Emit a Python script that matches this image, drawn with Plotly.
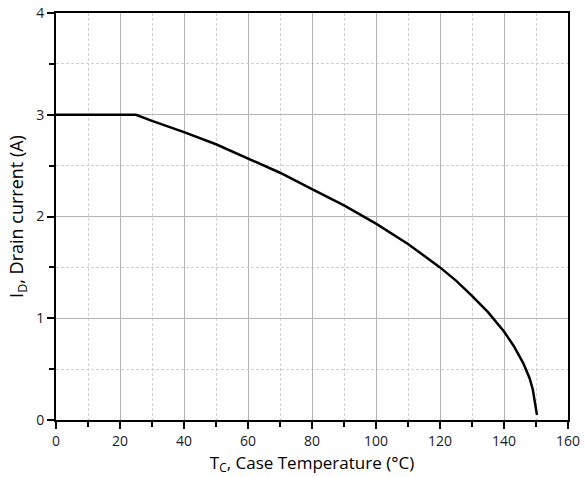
import plotly.graph_objects as go

temperature = [0, 25, 30, 40, 50, 60, 70, 80, 90, 100, 110, 120, 125, 130, 135, 140, 143, 146, 148, 149, 149.6, 150.3]
drain_current = [3.0, 3.0, 2.94, 2.83, 2.71, 2.57, 2.43, 2.27, 2.11, 1.93, 1.73, 1.50, 1.37, 1.22, 1.06, 0.87, 0.73, 0.56, 0.41, 0.30, 0.20, 0.05]

x_ticks = [0, 20, 40, 60, 80, 100, 120, 140, 160]
y_ticks = [0, 1, 2, 3, 4]

fig = go.Figure()
fig.add_trace(go.Scatter(x=temperature, y=drain_current, mode="lines",
                         line=dict(color="black", width=2.5),
                         showlegend=False))

axis_common = dict(
    showline=True, linecolor="black", linewidth=2, mirror=True,
    ticks="outside", ticklen=7, tickwidth=2, tickcolor="black",
    showgrid=True, gridcolor="#b4b4b4", gridwidth=1,
    zeroline=False, automargin=False,
    tickfont=dict(family="Open Sans", size=14, color="#1a1a2a"),
)

minor_common = dict(showgrid=True, gridcolor="#d0d0d0", griddash="3px,2px", gridwidth=1,
                    ticks="outside", ticklen=5, tickwidth=2, tickcolor="black")

fig.update_xaxes(range=[0, 160], tickvals=x_ticks,
                 minor=dict(dtick=10, **minor_common),
                 title=dict(text="T<sub>C</sub>, Case Temperature (°C)",
                            font=dict(family="Open Sans", size=17, color="black"), standoff=8),
                 **axis_common)
fig.update_yaxes(range=[0, 4], tickvals=y_ticks,
                 minor=dict(dtick=0.5, **minor_common),
                 title=dict(text="I<sub>D</sub>, Drain current (A)",
                            font=dict(family="Open Sans", size=18, color="black"), standoff=8),
                 **axis_common)

fig.update_layout(width=585, height=477,
                  margin=dict(l=56, r=17, t=13, b=57),
                  plot_bgcolor="white", paper_bgcolor="white")

fig.write_html("out.html")
